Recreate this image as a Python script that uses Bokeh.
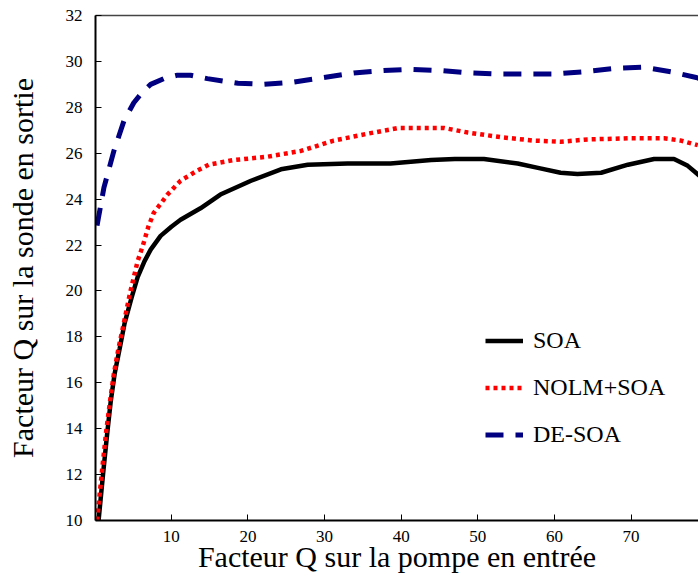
from bokeh.plotting import figure
from bokeh.models import FixedTicker, LinearAxis, Range1d
from bokeh.embed import file_html
from bokeh.resources import INLINE

FONT = "Liberation Serif"

x_ticks = [10, 20, 30, 40, 50, 60, 70, 80]
y_ticks = [10, 12, 14, 16, 18, 20, 22, 24, 26, 28, 30, 32]

soa_x = [0.5, 1.08, 1.66, 2.09, 2.6, 3.26, 3.9, 4.8, 5.6, 6.5, 7.3, 8.6, 10.0, 11.2,
         13.8, 16.4, 20.4, 24.3, 27.8, 33.0, 38.6, 43.9, 47.0, 50.8, 55.2, 58.0,
         60.8, 63.0, 66.1, 69.6, 73.0, 75.6, 77.4, 79.0]
soa_y = [10.0, 12.0, 13.9, 15.2, 16.4, 17.5, 18.6, 19.7, 20.6, 21.3, 21.8, 22.4,
         22.8, 23.1, 23.6, 24.2, 24.8, 25.3, 25.5, 25.55, 25.55, 25.7, 25.75,
         25.75, 25.55, 25.35, 25.15, 25.1, 25.15, 25.5, 25.75, 25.75, 25.45, 25.0]

nolm_x = [0.3, 0.9, 1.5, 2.0, 2.5, 3.1, 3.8, 4.6, 5.6, 6.3, 7.0, 7.7, 9.5, 11.2,
          13.4, 14.9, 18.1, 22.6, 26.9, 31.2, 35.6, 39.6, 43.9, 45.6, 48.7, 53.0,
          57.3, 60.8, 64.3, 69.6, 74.3, 76.5, 78.7]
nolm_y = [10.0, 12.0, 13.9, 15.2, 16.4, 17.5, 18.6, 19.9, 21.3, 22.0, 22.8, 23.4,
          24.2, 24.8, 25.25, 25.5, 25.7, 25.85, 26.1, 26.55, 26.85, 27.1, 27.1,
          27.1, 26.9, 26.7, 26.55, 26.5, 26.6, 26.65, 26.65, 26.55, 26.35]

de_x = [0.3, 1.2, 2.5, 3.8, 5.1, 6.2, 7.3, 9.0, 10.8, 12.5, 14.7, 18.7, 22.1, 26.0,
        29.9, 33.8, 37.7, 41.3, 45.2, 48.7, 52.6, 56.5, 60.0, 63.8, 67.8, 71.7,
        75.2, 78.5, 79.0]
de_y = [22.85, 24.5, 26.1, 27.4, 28.2, 28.65, 29.0, 29.25, 29.4, 29.4, 29.25, 29.05,
        29.0, 29.1, 29.3, 29.5, 29.6, 29.65, 29.6, 29.5, 29.45, 29.45, 29.45, 29.55,
        29.7, 29.75, 29.55, 29.3, 29.25]

p = figure(width=698, height=578, x_range=Range1d(0.1, 78.8), y_range=Range1d(10, 32),
           output_backend="svg", toolbar_location=None,
           min_border_left=95, min_border_right=0, min_border_top=15, min_border_bottom=58)
p.grid.visible = False
p.outline_line_color = None
p.background_fill_color = "white"
p.border_fill_color = "white"

p.line(soa_x, soa_y, line_color="black", line_width=4.5, legend_label="SOA")
p.line(nolm_x, nolm_y, line_color="#ff0000", line_width=4.5, line_dash="4 4",
       legend_label="NOLM+SOA")
p.line(de_x, de_y, line_color="#000080", line_width=5, line_dash="18 12",
       legend_label="DE-SOA")

xa = p.below[0]
ya = p.left[0]
for ax in (xa, ya):
    ax.axis_line_width = 2
    ax.axis_line_color = "black"
    ax.major_tick_in = 6
    ax.major_tick_out = 0
    ax.major_tick_line_width = 1
    ax.minor_tick_line_color = None
    ax.major_label_text_color = "black"
    ax.major_label_text_font = FONT
    ax.major_label_text_font_size = "17px"
    ax.major_label_text_font_style = "normal"
    ax.axis_label_text_font = FONT
    ax.axis_label_text_font_size = "30px"
    ax.axis_label_text_font_style = "normal"
    ax.axis_label_text_color = "black"

xa.ticker = FixedTicker(ticks=x_ticks)
ya.ticker = FixedTicker(ticks=y_ticks)
xa.axis_label = "Facteur Q sur la pompe en entrée"
ya.axis_label = "Facteur Q sur la sonde en sortie"
xa.major_label_standoff = 10
xa.axis_label_standoff = -5
ya.major_label_standoff = 13
ya.axis_label_standoff = 24

top = LinearAxis(ticker=FixedTicker(ticks=[]), axis_line_width=1.5, axis_line_color="#444444",
                 major_tick_line_color=None, minor_tick_line_color=None,
                 major_label_standoff=0, major_tick_out=0, major_tick_in=0,
                 major_label_text_font_size="0px")
p.add_layout(top, "above")

lg = p.legend[0]
lg.location = (390, 72)
lg.background_fill_alpha = 0
lg.border_line_color = None
lg.padding = 0
lg.margin = 0
lg.spacing = 20
lg.glyph_width = 38
lg.glyph_height = 27
lg.label_height = 27
lg.label_standoff = 10
lg.label_text_font = FONT
lg.label_text_font_size = "24px"
lg.label_text_color = "black"

open("out.html", "w").write(file_html(p, INLINE))
